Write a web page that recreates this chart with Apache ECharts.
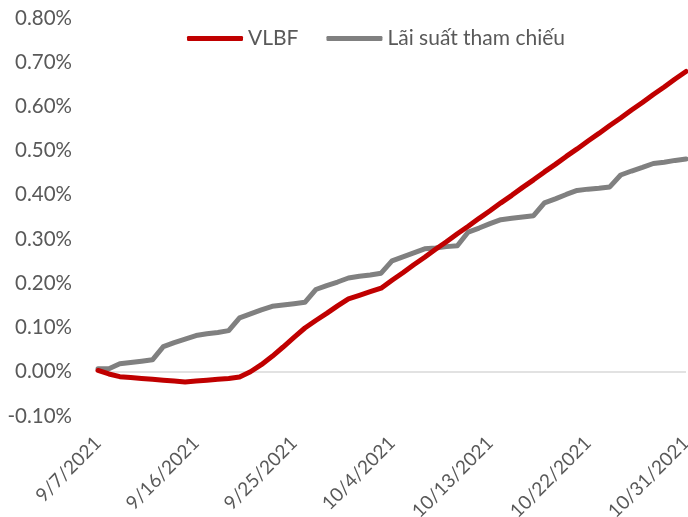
<!DOCTYPE html>
<html>
<head>
<meta charset="utf-8">
<script src="https://cdn.jsdelivr.net/npm/echarts@6/dist/echarts.min.js"></script>
<style>
  html, body { margin: 0; padding: 0; background: #fff; }
  #chart { width: 688px; height: 517px; }
</style>
</head>
<body>
<div id="chart"></div>
<script>
  const dates = [
    "9/7/2021", "9/8/2021", "9/9/2021", "9/10/2021", "9/11/2021", "9/12/2021", "9/13/2021",
    "9/14/2021", "9/15/2021", "9/16/2021", "9/17/2021", "9/18/2021", "9/19/2021", "9/20/2021",
    "9/21/2021", "9/22/2021", "9/23/2021", "9/24/2021", "9/25/2021", "9/26/2021", "9/27/2021",
    "9/28/2021", "9/29/2021", "9/30/2021", "10/1/2021", "10/2/2021", "10/3/2021", "10/4/2021",
    "10/5/2021", "10/6/2021", "10/7/2021", "10/8/2021", "10/9/2021", "10/10/2021", "10/11/2021",
    "10/12/2021", "10/13/2021", "10/14/2021", "10/15/2021", "10/16/2021", "10/17/2021", "10/18/2021",
    "10/19/2021", "10/20/2021", "10/21/2021", "10/22/2021", "10/23/2021", "10/24/2021", "10/25/2021",
    "10/26/2021", "10/27/2021", "10/28/2021", "10/29/2021", "10/30/2021", "10/31/2021"
  ];

  // values in %
  const vlbf = [
    0.003, -0.005, -0.011, -0.013, -0.015, -0.017, -0.019,
    -0.021, -0.023, -0.021, -0.019, -0.017, -0.015, -0.012,
    0.000, 0.016, 0.035, 0.056, 0.078, 0.099, 0.116,
    0.132, 0.149, 0.165, 0.173, 0.181, 0.189, 0.207,
    0.224, 0.242, 0.259, 0.277, 0.294, 0.312, 0.329,
    0.347, 0.364, 0.382, 0.399, 0.417, 0.434, 0.452,
    0.469, 0.487, 0.504, 0.522, 0.539, 0.557, 0.574,
    0.592, 0.609, 0.627, 0.644, 0.662, 0.679
  ];

  const laiSuat = [
    0.007, 0.007, 0.018, 0.021, 0.024, 0.027, 0.057,
    0.066, 0.074, 0.082, 0.086, 0.089, 0.093, 0.122,
    0.131, 0.140, 0.148, 0.151, 0.154, 0.157, 0.186,
    0.195, 0.203, 0.212, 0.216, 0.219, 0.223, 0.251,
    0.260, 0.269, 0.278, 0.280, 0.283, 0.285, 0.316,
    0.325, 0.335, 0.344, 0.347, 0.350, 0.353, 0.382,
    0.391, 0.401, 0.410, 0.413, 0.415, 0.418, 0.445,
    0.454, 0.462, 0.471, 0.474, 0.478, 0.481
  ];

  const seriesNames = ["VLBF", "Lãi suất tham chiếu"];

  const FONT = "Lato, 'Open Sans', sans-serif";
  const TEXT = "#595959";

  const chart = echarts.init(document.getElementById("chart"), null, { renderer: "canvas" });
  chart.setOption({
    animation: false,
    backgroundColor: "#fff",
    textStyle: { fontFamily: FONT },
    grid: { left: 98, right: 2, top: 18, bottom: 101, containLabel: false, outerBoundsMode: "none" },
    legend: {
      left: 182, top: 23,
      itemWidth: 56, itemHeight: 5, itemGap: 28,
      icon: "roundRect",
      textStyle: { color: TEXT, fontSize: 21, fontFamily: FONT },
      data: seriesNames
    },
    xAxis: {
      type: "category", data: dates, boundaryGap: false,
      axisLine: { show: false },
      axisTick: { show: false },
      axisLabel: { interval: 8, rotate: 45, color: TEXT, fontSize: 19, margin: 24, fontFamily: FONT },
      splitLine: { show: false }
    },
    yAxis: {
      type: "value", min: -0.1, max: 0.8, interval: 0.1,
      axisLine: { show: false },
      axisTick: { show: false },
      splitLine: { show: false },
      axisLabel: { color: TEXT, fontSize: 20.5, margin: 26, fontFamily: FONT, formatter: v => v.toFixed(2) + "%" }
    },
    series: [
      {
        name: seriesNames[0], type: "line", data: vlbf, symbol: "none", z: 3,
        lineStyle: { color: "#C00000", width: 5, cap: "round", join: "round" },
        itemStyle: { color: "#C00000" },
        markLine: {
          silent: true, symbol: "none", label: { show: false },
          lineStyle: { color: "#D9D9D9", width: 1.5, type: "solid" },
          data: [{ yAxis: 0 }], z: 1
        }
      },
      {
        name: seriesNames[1], type: "line", data: laiSuat, symbol: "none", z: 2,
        lineStyle: { color: "#808080", width: 5, cap: "round", join: "round" },
        itemStyle: { color: "#808080" }
      }
    ]
  });
</script>
</body>
</html>
